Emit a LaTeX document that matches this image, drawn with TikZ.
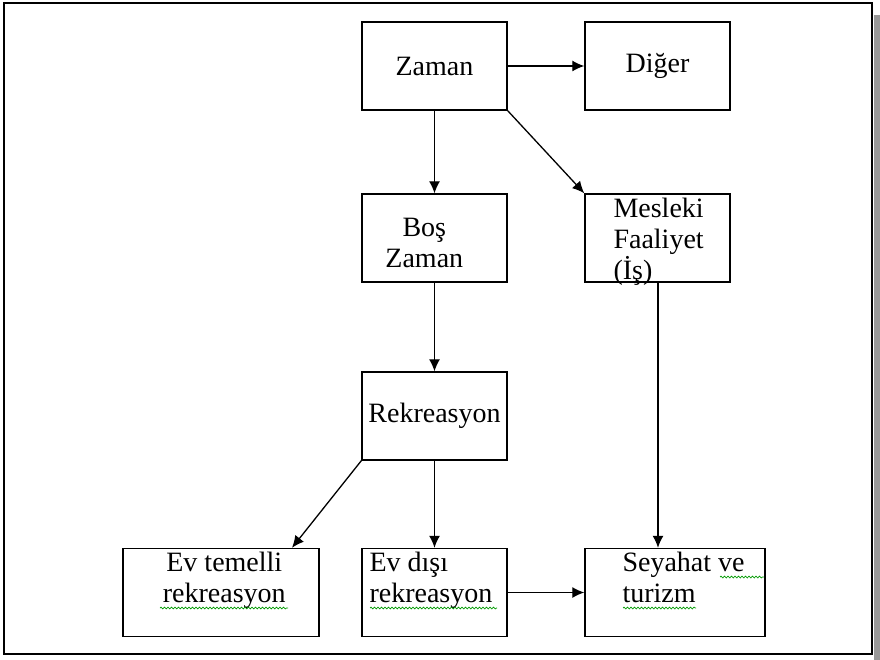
\documentclass[tikz,border=0pt]{standalone}
\usepackage{fontspec}
\setmainfont{Liberation Serif}
\usepackage{tikz}
\usetikzlibrary{shapes,arrows,arrows.meta,positioning,decorations.pathmorphing}

\begin{document}
\begin{tikzpicture}[x=1pt, y=-1pt, node distance=172pt, auto]
	\tikzstyle{block} = [rectangle, draw, line width=1.4pt, inner sep=0pt,
	minimum width=145pt, minimum height=88pt, font=\fontsize{28}{31}\selectfont]
	\tikzstyle{txt} = [inner sep=0pt, font=\fontsize{28}{31}\selectfont]
	\tikzstyle{line} = [draw, -{Latex[length=12pt,width=11pt]}, line width=1.3pt]
	\tikzstyle{spell} = [draw=green!60!black, line width=0.7pt,
	decorate, decoration={snake, amplitude=0.9pt, segment length=3.5pt}]
	\useasboundingbox (0,0) rectangle (880,660);
	% frame and shadow
	\fill [black!40] (873.5,15) rectangle (880,660);
	\draw [line width=2pt] (3.5,3) rectangle (872,654);
	% Place nodes
	\node [block] (zaman) at (434.5,66) {Zaman};
	\node [block, right of=zaman, node distance=223pt] (diger) {Diğer};
	\node [block, below of=zaman] (bos) {};
	\node [block, right of=bos, node distance=223pt] (mesleki) {};
	\node [block, below of=bos, node distance=178pt] (rekreasyon) {Rekreasyon};
	\node [block, below of=rekreasyon, node distance=176.5pt] (evdisi) {};
	\node [block, minimum width=196pt, left of=evdisi, node distance=213.5pt] (evtemelli) {};
	\node [block, minimum width=180pt, right of=evdisi, node distance=240.5pt] (seyahat) {};
	% texts in the boxes (base is the last line)
	\node [txt, align=center, anchor=base] (bos-t) at ([xshift=63pt, yshift=-74pt]bos.north west) {Boş\\Zaman};
	\node [txt, align=left, anchor=base west] (mesleki-t) at ([xshift=29pt, yshift=-86pt]mesleki.north west) {Mesleki\\Faaliyet\\(İş)};
	\node [txt, align=center, anchor=base] (evtemelli-t) at ([xshift=102pt, yshift=-55pt]evtemelli.north west) {Ev temelli\\rekreasyon};
	\node [txt, align=left, anchor=base west] (evdisi-t) at ([xshift=8pt, yshift=-55pt]evdisi.north west) {Ev dışı\\rekreasyon};
	\node [txt, align=left, anchor=base west] (seyahat-t) at ([xshift=38pt, yshift=-55pt]seyahat.north west) {Seyahat ve\\turizm};
	% spelling marks
	\path [spell] (160,608) -- (288,608);
	\path [spell] (370,608) -- (497,608);
	\path [spell] (720,577) -- (764,577);
	\path [spell] (623,608) -- (696,608);
	% Draw edges
	\path [line] (zaman) -- (diger);
	\path [line] (zaman) -- (bos);
	\path [line] (zaman.south east) -- (mesleki.north west);
	\path [line] (bos) -- (rekreasyon);
	\path [line] (mesleki.south -| 658,0) -- (seyahat.north -| 658,0);
	\path [line] (rekreasyon.south west) -- (evtemelli.north -| 292,0);
	\path [line] (rekreasyon) -- (evdisi);
	\path [line] (evdisi) -- (seyahat);
\end{tikzpicture}
\end{document}
